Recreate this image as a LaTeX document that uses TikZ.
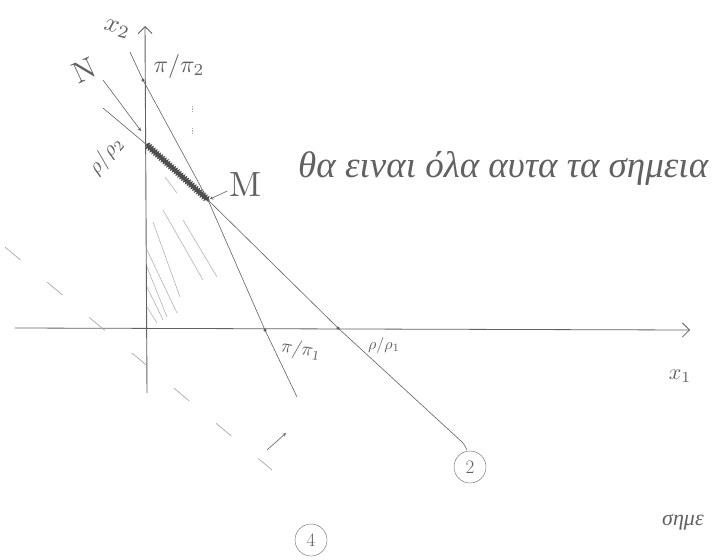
\documentclass[tikz,border=0pt]{standalone}
\usepackage{fontspec}
\usepackage{amsmath}
\newfontfamily\greekhand{Liberation Serif}
\usetikzlibrary{positioning,calc,decorations.pathmorphing,arrows.meta}
\definecolor{pencil}{gray}{0.38}

\begin{document}
\begin{tikzpicture}[x=1pt, y=-1pt, >=stealth,
  pen/.style={draw=pencil, line width=0.6pt},
  faint/.style={draw=pencil!55, line width=0.5pt},
  lbl/.style={text=pencil, inner sep=0pt, transform shape},
  pt/.style={circle, fill=pencil, inner sep=0pt, minimum size=3.5pt},
  tag/.style={draw=pencil, circle, inner sep=0pt, minimum size=32pt, text=pencil,
    font=\fontsize{19}{20}\selectfont}]
\useasboundingbox[fill=white] (0,0) rectangle (716,560);
% axes
\coordinate (O) at (147,328);
\coordinate (x2bot) at (147,393);
\coordinate (x2top) at (145,26);
\coordinate (x1left) at (15,328);
\coordinate (x1end) at (690,330);
\draw[pen, line width=0.9pt, -{Straight Barb[length=7pt, width=14pt]}] (x2bot) -- (x2top);
\draw[pen, line width=0.8pt, -{Straight Barb[length=7pt, width=14pt]}] (x1left) -- (x1end);
% points on the axes and the corner M
\node[pt] (P2) at (143,80) {};
\node[pt] (Q2) at (147,145) {};
\node[pt] (M) at (208,200) {};
\node[pt] (P1) at (265,330) {};
\node[pt] (Q1) at (338,328) {};
\coordinate (A1) at (130,52);
\coordinate (A2) at (103,108);
\coordinate (E1) at (297,397);
\coordinate (E2) at (462,442);
% hatching of the region
\foreach \xa/\ya/\xb/\yb in {163/210/203/280, 153/222/180/297, 147/250/177/313, 147/267/167/317,
  147/287/163/320, 147/307/157/323, 183/220/217/277, 165/177/177/193}
  {\draw[faint] (\xa,\ya) -- (\xb,\yb);}
% the two lines
\draw[pen] (A1) -- (P2.center) -- (M.center) -- (P1.center) -- (E1);
\draw[pen] (A2) -- (Q2.center) -- (M.center) -- (Q1.center) -- (E2) to[bend left=10] ++(5,8) coordinate (E2b);
\draw[draw=pencil!80!black, line width=2.2pt, decorate,
  decoration={zigzag, segment length=2.5pt, amplitude=1.4pt}] (Q2.center) -- (M.center);
% dashed level line and its direction
\coordinate (L1) at (5,247);
\coordinate (L2) at (272,470);
\draw[faint, line width=0.7pt, dash pattern=on 20pt off 35pt] (L1) -- (L2);
\coordinate (d1) at (267,450);
\coordinate (d2) at (286,433);
\draw[pen, ->] (d1) -- (d2);
\draw[faint, densely dotted, line width=1pt] (192,106) -- (192,112) (192,128) -- (192,134);
% labels
\node[lbl, scale=2.6, rotate=-15] (lx2) at (117,29) {$x_2$};
\node[lbl, scale=2.4] (lp2) at (179,66) {$\pi/\pi_2$};
\node[lbl, scale=3, rotate=25] (lN) at (84,70) {N};
\coordinate (n1) at (103,80);
\coordinate (n2) at (141,131);
\draw[pen, ->] (n1) -- (n2);
\node[lbl, scale=2.1, rotate=50] (lq2) at (106,156) {$\rho/\rho_2$};
\node[lbl, scale=3.5] (lM) at (246,185) {M};
\draw[pen, ->] ($(lM.west)+(-2,6)$) -- (M);
\node[lbl, anchor=west] (txt) at (298,168)
  {\greekhand\itshape\fontsize{37}{40}\selectfont θα ειναι όλα αυτα τα σημεια};
\node[lbl, scale=1.9, rotate=-10] (lp1) at (301,350) {$\pi/\pi_1$};
\node[lbl, scale=1.6] (lq1) at (384,345) {$\rho/\rho_1$};
\node[lbl, scale=2.2] (lx1) at (680,376) {$x_1$};
\node[tag] (c2) at (470,467) {2};
\node[tag] (c4) at (311,540) {4};
\node[lbl, anchor=west] (tail) at (662,522) {\greekhand\itshape\fontsize{22}{24}\selectfont σημε};
\end{tikzpicture}
\end{document}
